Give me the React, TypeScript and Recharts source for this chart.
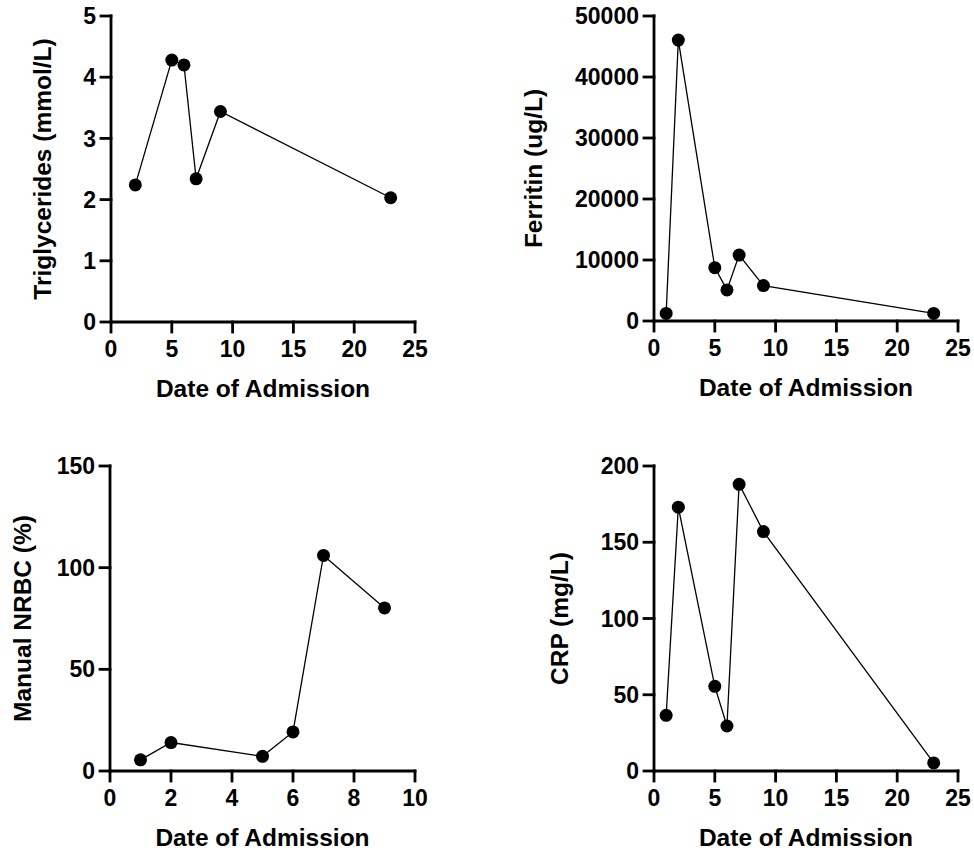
import { Line, LineChart, XAxis, YAxis } from "recharts";

// days since admission for each measurement
const trigDays = [2, 5, 6, 7, 9, 23];
const trigValues = [2.24, 4.28, 4.2, 2.34, 3.44, 2.03];

const ferritinDays = [1, 2, 5, 6, 7, 9, 23];
const ferritinValues = [1250, 46050, 8750, 5100, 10800, 5800, 1250];

const nrbcDays = [1, 2, 5, 6, 7, 9];
const nrbcValues = [5.5, 14, 7.2, 19.2, 106, 80.2];

const crpDays = [1, 2, 5, 6, 7, 9, 23];
const crpValues = [36.5, 173, 55.5, 29.5, 188, 157, 5.3];

const dayTicks25 = [0, 5, 10, 15, 20, 25];
const dayTicks10 = [0, 2, 4, 6, 8, 10];
const trigTicks = [0, 1, 2, 3, 4, 5];
const ferritinTicks = [0, 10000, 20000, 30000, 40000, 50000];
const nrbcTicks = [0, 50, 100, 150];
const crpTicks = [0, 50, 100, 150, 200];

const toRows = (days: number[], values: number[]) =>
    days.map((day, i) => ({ day, value: values[i] }));

const FONT = "'Liberation Sans', Arial, Helvetica, sans-serif";
const X_AXIS_H = 80;
const axisStroke = { stroke: "#000", strokeWidth: 2.8, strokeLinecap: "square" as const };
const tickStyle = { fill: "#000", fontSize: 23, fontWeight: 700, fontFamily: FONT };

type PanelProps = {
    left: number;
    top: number;
    data: Array<{ day: number; value: number }>;
    xTicks: number[];
    yTicks: number[];
    yLabel: string;
    yLabelX: number;
    yAxisWidth: number;
    margin: { top: number; right: number; bottom: number; left: number };
};

const W = 487;
const H = 426;

function Panel({ left, top, data, xTicks, yTicks, yLabel, yLabelX, yAxisWidth, margin }: PanelProps) {
    const plotW = W - margin.left - margin.right - yAxisWidth;
    const plotH = H - margin.top - margin.bottom - X_AXIS_H;
    const cx = yAxisWidth + plotW / 2;
    const cy = margin.top + plotH / 2;
    return (
        <div style={{ position: "absolute", left, top }}>
            <LineChart width={W} height={H} data={data} margin={margin}>
                <XAxis
                    type="number"
                    dataKey="day"
                    domain={[xTicks[0], xTicks[xTicks.length - 1]]}
                    ticks={xTicks}
                    interval={0}
                    height={X_AXIS_H}
                    tickSize={10}
                    tickMargin={9}
                    axisLine={axisStroke}
                    tickLine={axisStroke}
                    tick={tickStyle}
                    label={{
                        content: () => (
                            <text x={cx} y={margin.top + plotH + 66} textAnchor="middle" dominantBaseline="central"
                                fontFamily={FONT} fontSize={24.5} fontWeight={700} fill="#000">
                                Date of Admission
                            </text>
                        ),
                    }}
                />
                <YAxis
                    type="number"
                    domain={[yTicks[0], yTicks[yTicks.length - 1]]}
                    ticks={yTicks}
                    interval={0}
                    width={yAxisWidth}
                    tickSize={10}
                    tickMargin={5}
                    axisLine={axisStroke}
                    tickLine={axisStroke}
                    tick={tickStyle}
                    label={{
                        content: () => (
                            <text x={yLabelX} y={cy} textAnchor="middle" dominantBaseline="central"
                                transform={`rotate(-90, ${yLabelX}, ${cy})`}
                                fontFamily={FONT} fontSize={24.5} fontWeight={700} fill="#000">
                                {yLabel}
                            </text>
                        ),
                    }}
                />
                <Line
                    dataKey="value"
                    stroke="#000"
                    strokeWidth={1.3}
                    dot={{ r: 6.5, fill: "#000", stroke: "#000", strokeWidth: 0 }}
                    activeDot={false}
                    isAnimationActive={false}
                />
            </LineChart>
        </div>
    );
}

export default function App() {
    return (
        <div style={{ position: "absolute", left: 0, top: 0, width: 974, height: 852, background: "#fff" }}>
            <Panel left={0} top={0} data={toRows(trigDays, trigValues)} xTicks={dayTicks25} yTicks={trigTicks}
                yLabel="Triglycerides (mmol/L)" yLabelX={42} yAxisWidth={111}
                margin={{ top: 16, right: 72, bottom: 24, left: 0 }} />
            <Panel left={487} top={0} data={toRows(ferritinDays, ferritinValues)} xTicks={dayTicks25} yTicks={ferritinTicks}
                yLabel="Ferritin (ug/L)" yLabelX={46} yAxisWidth={167}
                margin={{ top: 16, right: 16, bottom: 25, left: 0 }} />
            <Panel left={0} top={426} data={toRows(nrbcDays, nrbcValues)} xTicks={dayTicks10} yTicks={nrbcTicks}
                yLabel="Manual NRBC (%)" yLabelX={22} yAxisWidth={110}
                margin={{ top: 40, right: 72, bottom: 1, left: 0 }} />
            <Panel left={487} top={426} data={toRows(crpDays, crpValues)} xTicks={dayTicks25} yTicks={crpTicks}
                yLabel="CRP (mg/L)" yLabelX={72} yAxisWidth={167}
                margin={{ top: 40, right: 16, bottom: 1, left: 0 }} />
        </div>
    );
}
